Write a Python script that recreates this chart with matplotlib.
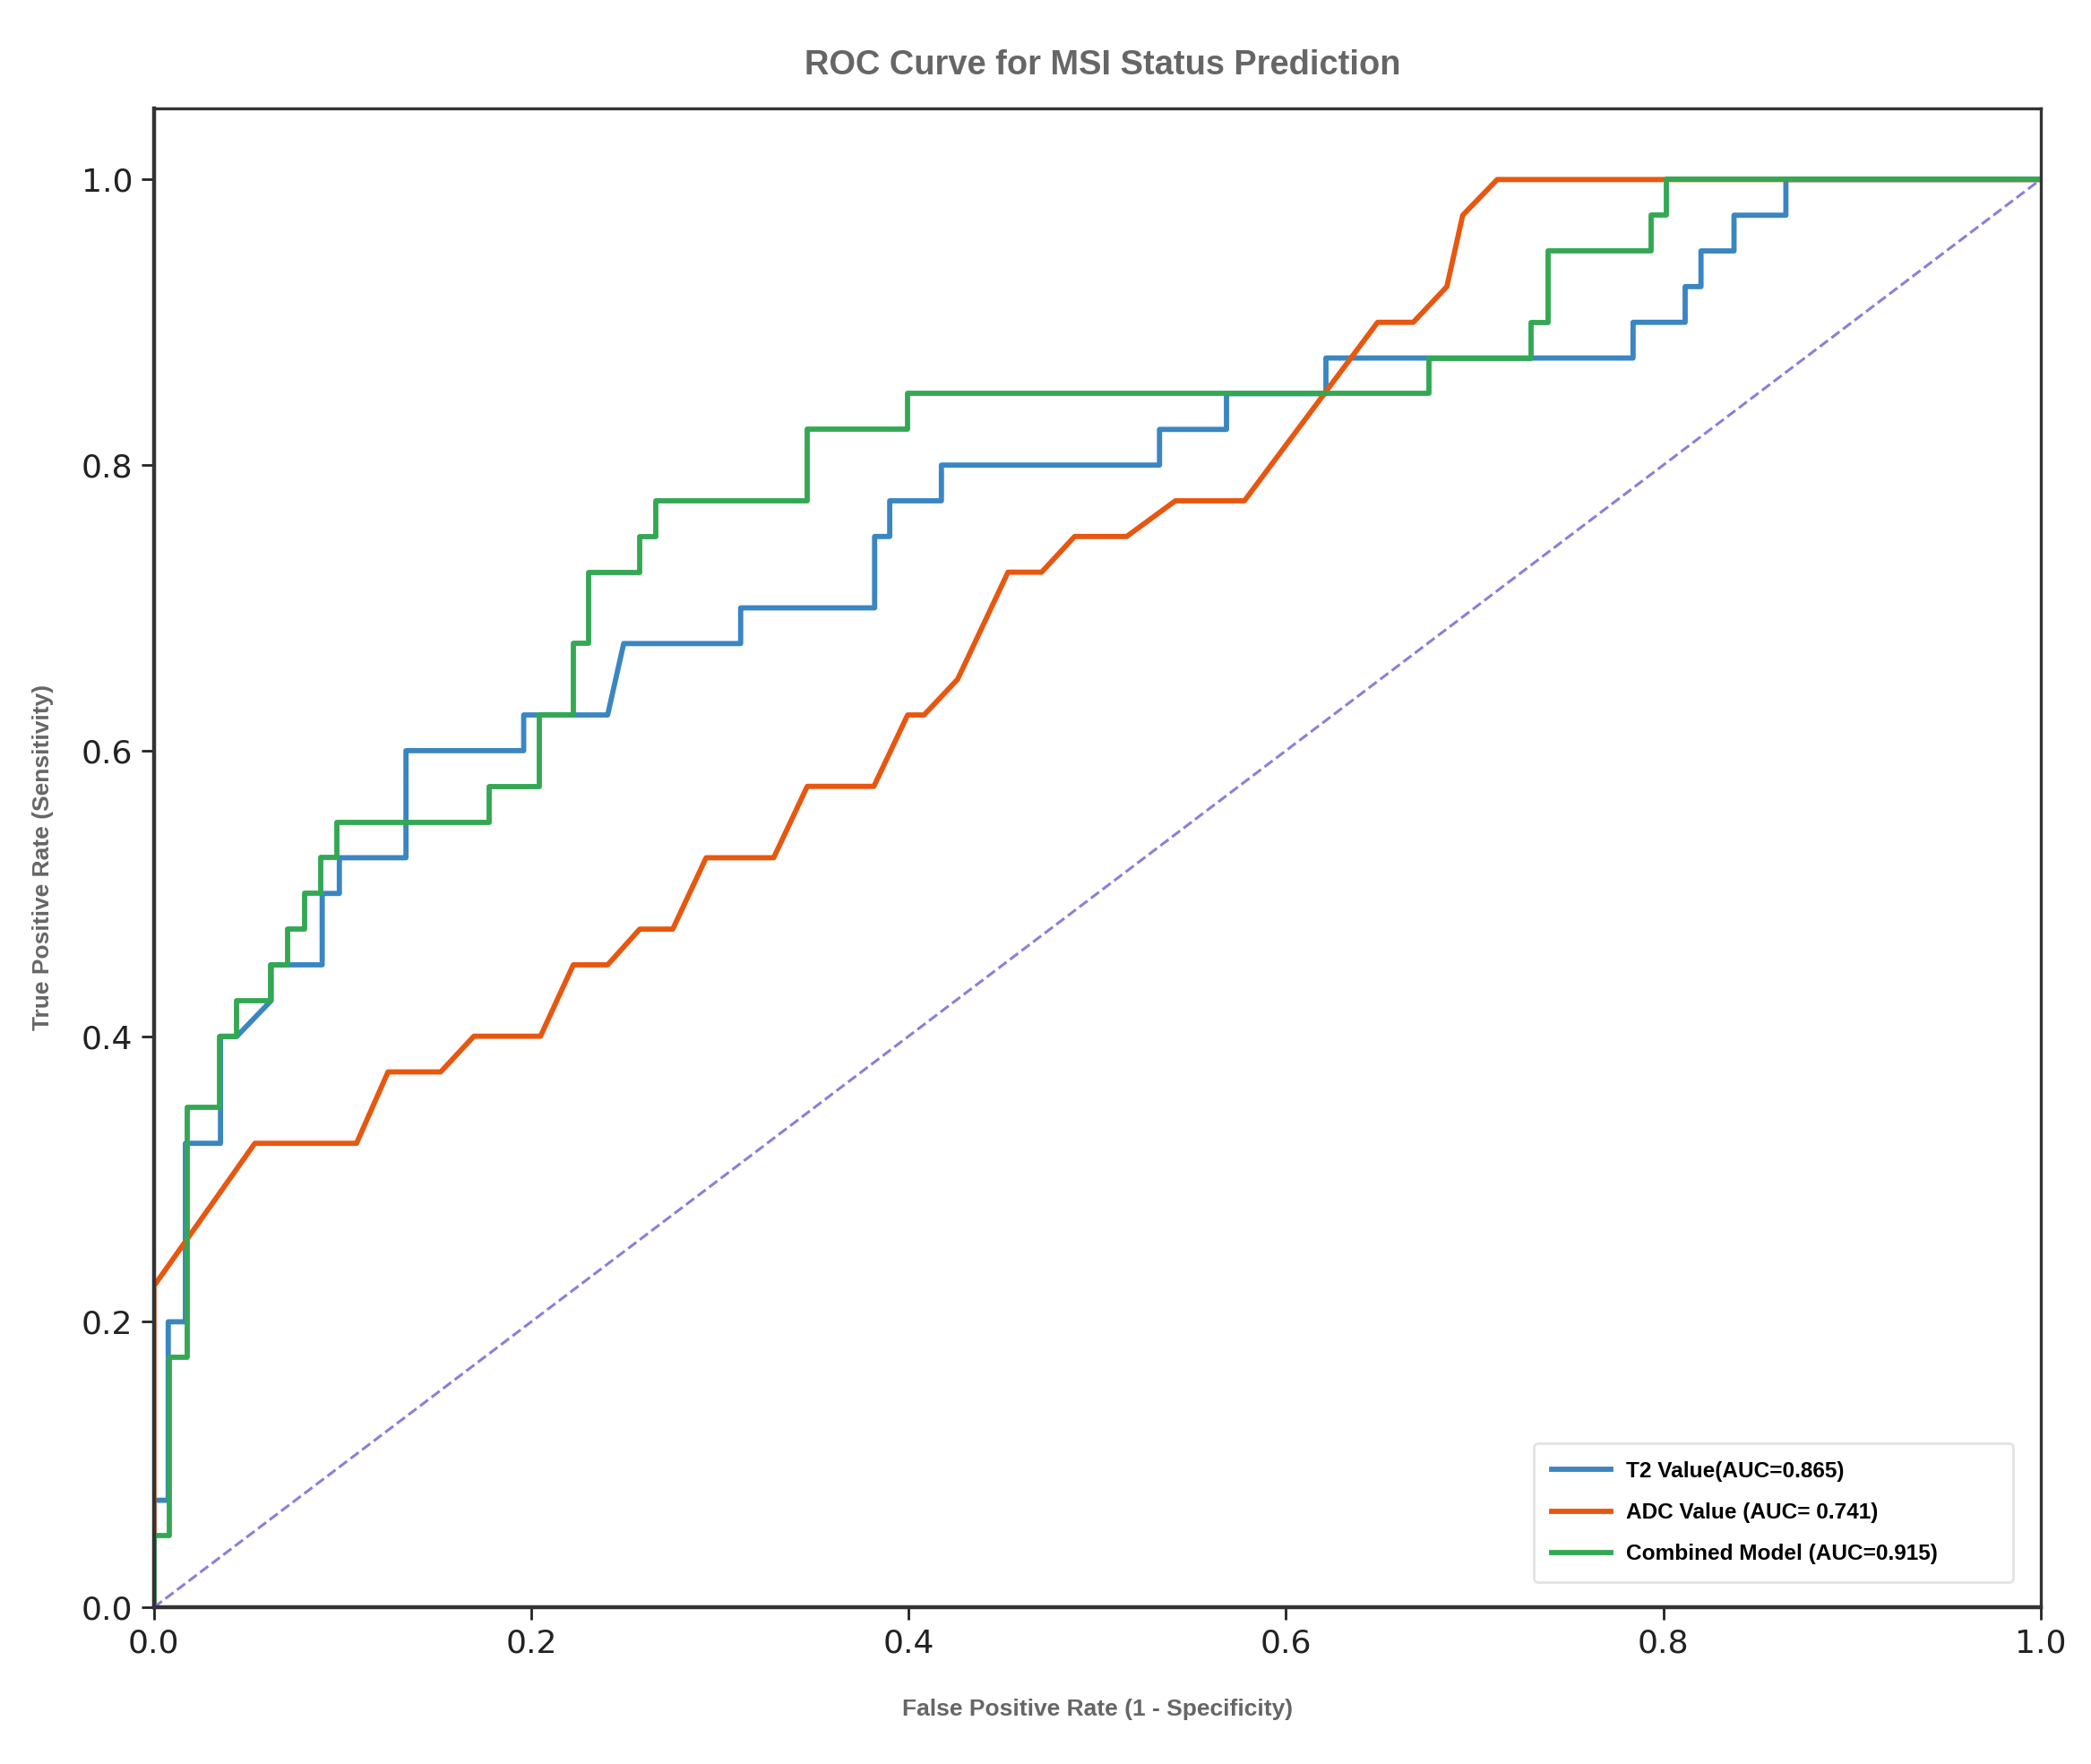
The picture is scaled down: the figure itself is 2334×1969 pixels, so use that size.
import matplotlib
matplotlib.use("Agg")
import matplotlib.pyplot as plt

# ROC points (FPR, TPR)
t2_fpr = [0.0, 0.0, 0.0076, 0.0076, 0.0167, 0.0167, 0.0353, 0.0353, 0.044, 0.0622,
          0.0622, 0.0892, 0.0892, 0.0983, 0.0983, 0.1336, 0.1336, 0.196, 0.196, 0.2405,
          0.249, 0.311, 0.311, 0.382, 0.382, 0.390, 0.390, 0.4174, 0.4174, 0.533,
          0.533, 0.5685, 0.5685, 0.6212, 0.6212, 0.784, 0.784, 0.8116, 0.8116, 0.82,
          0.82, 0.8375, 0.8375, 0.865, 0.865, 1.0]
t2_tpr = [0.0, 0.075, 0.075, 0.2, 0.2, 0.325, 0.325, 0.4, 0.4, 0.425,
          0.45, 0.45, 0.5, 0.5, 0.525, 0.525, 0.6, 0.6, 0.625, 0.625,
          0.675, 0.675, 0.7, 0.7, 0.75, 0.75, 0.775, 0.775, 0.8, 0.8,
          0.825, 0.825, 0.85, 0.85, 0.875, 0.875, 0.9, 0.9, 0.925, 0.925,
          0.95, 0.95, 0.975, 0.975, 1.0, 1.0]

adc_fpr = [0.0, 0.0, 0.0535, 0.1074, 0.1241, 0.152, 0.1696, 0.2049, 0.2223, 0.2405,
           0.2575, 0.275, 0.2927, 0.3285, 0.3463, 0.3816, 0.3995, 0.4082, 0.426, 0.4527,
           0.4705, 0.488, 0.5156, 0.5414, 0.578, 0.6486, 0.6675, 0.6853, 0.6937, 0.712, 1.0]
adc_tpr = [0.0, 0.225, 0.325, 0.325, 0.375, 0.375, 0.4, 0.4, 0.45, 0.45,
           0.475, 0.475, 0.525, 0.525, 0.575, 0.575, 0.625, 0.625, 0.65, 0.725,
           0.725, 0.75, 0.75, 0.775, 0.775, 0.9, 0.9, 0.925, 0.975, 1.0, 1.0]

comb_fpr = [0.0, 0.0, 0.0082, 0.0082, 0.0177, 0.0177, 0.0346, 0.0346, 0.044, 0.044,
            0.0617, 0.0617, 0.0708, 0.0708, 0.0799, 0.0799, 0.0886, 0.0886, 0.0972, 0.0972,
            0.1775, 0.1775, 0.2045, 0.2045, 0.2225, 0.2225, 0.2303, 0.2303, 0.2574, 0.2574,
            0.2661, 0.2661, 0.3464, 0.3464, 0.3995, 0.3995, 0.676, 0.676, 0.730, 0.730,
            0.739, 0.739, 0.7934, 0.7934, 0.8016, 0.8016, 1.0]
comb_tpr = [0.0, 0.05, 0.05, 0.175, 0.175, 0.35, 0.35, 0.4, 0.4, 0.425,
            0.425, 0.45, 0.45, 0.475, 0.475, 0.5, 0.5, 0.525, 0.525, 0.55,
            0.55, 0.575, 0.575, 0.625, 0.625, 0.675, 0.675, 0.725, 0.725, 0.75,
            0.75, 0.775, 0.775, 0.825, 0.825, 0.85, 0.85, 0.875, 0.875, 0.9,
            0.9, 0.95, 0.95, 0.975, 0.975, 1.0, 1.0]

labels = ["T2 Value(AUC=0.865)", "ADC Value (AUC= 0.741)", "Combined Model (AUC=0.915)"]
colors = ["#3A86C2", "#E8570F", "#33A853"]

fig = plt.figure(figsize=(11.67, 9.845), dpi=200)
ax = fig.add_axes([0.0736, 0.0888, 0.9023, 0.8499])

ax.plot(t2_fpr, t2_tpr, color=colors[0], lw=2.1, label=labels[0])
ax.plot(adc_fpr, adc_tpr, color=colors[1], lw=2.1, label=labels[1])
ax.plot(comb_fpr, comb_tpr, color=colors[2], lw=2.1, label=labels[2])
ax.plot([0, 1], [0, 1], linestyle="--", color="#8A80D8", lw=1.1)

ax.set_xlim(0, 1)
ax.set_ylim(0, 1.05)
ax.set_xticks([0, 0.2, 0.4, 0.6, 0.8, 1.0])
ax.set_yticks([0, 0.2, 0.4, 0.6, 0.8, 1.0])
ax.tick_params(labelsize=13, length=5, width=1, colors="#222222")

for s in ["left", "bottom"]:
    ax.spines[s].set_linewidth(1.6)
    ax.spines[s].set_color("#333333")
for s in ["top", "right"]:
    ax.spines[s].set_linewidth(1.2)
    ax.spines[s].set_color("#333333")

fnt = ["Liberation Sans", "DejaVu Sans"]
fig.text(0.5275, 0.963, "ROC Curve for MSI Status Prediction", ha="center", va="center",
         fontsize=13.7, fontweight="bold", color="#666666", family=fnt)
ax.set_xlabel("False Positive Rate (1 - Specificity)", fontsize=9.5, fontweight="bold",
              color="#666666", family=fnt, labelpad=16)
ax.set_ylabel("True Positive Rate (Sensitivity)", fontsize=9.5, fontweight="bold",
              color="#666666", family=fnt, labelpad=11)

leg = ax.legend(loc="lower left", bbox_to_anchor=(0.7314, 0.0168, 0.2538, 0.0998),
                mode="expand", borderaxespad=0, frameon=True,
                prop={"family": fnt, "weight": "bold", "size": 8.8}, handlelength=2.7,
                handletextpad=0.7, labelspacing=0.95, borderpad=0.8, fancybox=True)
leg.get_frame().set_edgecolor("#dddddd")
for line in leg.get_lines():
    line.set_linewidth(2.1)

fig.savefig("out.png", dpi=200)
